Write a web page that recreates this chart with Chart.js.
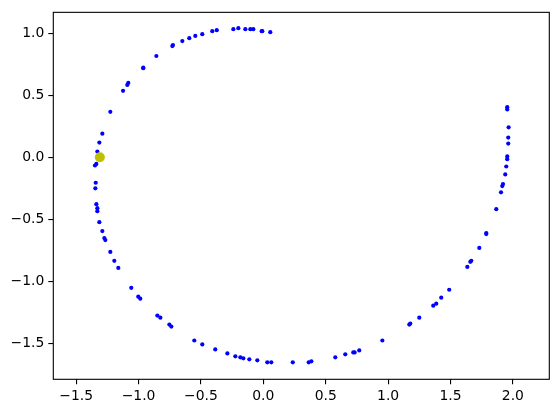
<!DOCTYPE html>
<html>
<head>
<meta charset="utf-8">
<script src="https://cdn.jsdelivr.net/npm/chart.js@4/dist/chart.umd.min.js"></script>
<style>
  html, body { margin: 0; padding: 0; background: #fff; }
  canvas { display: block; }
</style>
</head>
<body>
<canvas id="orbit" width="559" height="413"></canvas>
<script>
// orbit samples
const orbitX = [
  -1.346, -1.343, -1.338, -1.330, -1.330, -1.349, -1.338, -1.330, -1.314, -1.290,
  -1.226, -1.124, -1.090, -1.082, -0.962, -0.962, -0.857, -0.729, -0.724, -0.649,
  -0.593, -0.545, -0.489, -0.409, -0.373, -0.240, -0.200, -0.144, -0.104, -0.080,
  -0.013, -0.008, 0.056,
  1.955, 1.955, 1.966, 1.963, 1.963, 1.955, 1.955, 1.947, 1.939, 1.921,
  1.915, 1.905, 1.867,
  -1.314, -1.290, -1.274, -1.266, -1.226, -1.194, -1.162, -1.058, -1.002, -0.986,
  -0.849, -0.825, -0.753, -0.737, -0.553, -0.489, -0.385, -0.288, -0.224, -0.184,
  -0.160, -0.112, -0.048, 0.032, 0.064,
  0.236, 0.364, 0.385, 0.577, 0.657, 0.721, 0.732, 0.769, 0.954, 1.170,
  1.178, 1.250, 1.362, 1.386, 1.426, 1.490, 1.635, 1.659, 1.667, 1.731,
  1.787, 1.787
];
const orbitY = [
  -0.251, -0.206, -0.379, -0.411, -0.435, -0.067, -0.054, 0.046, 0.118, 0.190,
  0.366, 0.535, 0.583, 0.599, 0.722, 0.717, 0.816, 0.896, 0.904, 0.936,
  0.960, 0.978, 0.992, 1.016, 1.024, 1.032, 1.040, 1.032, 1.032, 1.032,
  1.016, 1.016, 1.008,
  0.403, 0.385, 0.241, 0.158, 0.110, 0.006, -0.016, -0.075, -0.139, -0.217,
  -0.233, -0.283, -0.419,
  -0.524, -0.596, -0.652, -0.668, -0.764, -0.836, -0.893, -1.053, -1.125, -1.141,
  -1.277, -1.294, -1.350, -1.366, -1.478, -1.510, -1.550, -1.582, -1.606, -1.614,
  -1.622, -1.630, -1.638, -1.654, -1.654,
  -1.654, -1.654, -1.646, -1.614, -1.590, -1.574, -1.574, -1.558, -1.478, -1.350,
  -1.342, -1.294, -1.197, -1.181, -1.133, -1.069, -0.885, -0.844, -0.836, -0.732,
  -0.620, -0.612
];

const bodyX = [-1.31];
const bodyY = [0.0];

const X_TICKS = [-1.5, -1.0, -0.5, 0.0, 0.5, 1.0, 1.5, 2.0];
const Y_TICKS = [-1.5, -1.0, -0.5, 0.0, 0.5, 1.0];
const X_RANGE = [-1.683, 2.292];
const Y_RANGE = [-1.791, 1.168];

const FONT = { family: 'DejaVu Sans', size: 13.9 };

function toPoints(xs, ys) {
  return xs.map((x, i) => ({ x: x, y: ys[i] }));
}

function fmtTick(v) {
  return (v < 0 ? '\u2212' : '') + Math.abs(v).toFixed(1);
}

function axis(range, ticks, fit) {
  return {
    type: 'linear',
    min: range[0],
    max: range[1],
    afterBuildTicks: s => { s.ticks = ticks.map(v => ({ value: v })); },
    afterFit: fit,
    grid: { display: true, drawOnChartArea: false, drawTicks: true, tickLength: 5, color: '#000', lineWidth: 1.1 },
    border: { display: false },
    ticks: { color: '#000', font: FONT, padding: 4, autoSkip: false, maxRotation: 0, callback: fmtTick },
  };
}

// matplotlib style box round the axes
const frame = {
  id: 'frame',
  afterDraw(chart) {
    const a = chart.chartArea, ctx = chart.ctx;
    ctx.save();
    ctx.strokeStyle = '#000';
    ctx.lineWidth = 1.1;
    ctx.strokeRect(a.left, a.top, a.right - a.left, a.bottom - a.top);
    ctx.restore();
  }
};

new Chart(document.getElementById('orbit'), {
  type: 'scatter',
  data: {
    datasets: [
      { data: toPoints(bodyX, bodyY), backgroundColor: '#bfbf00', borderWidth: 0, pointRadius: 5 },
      { data: toPoints(orbitX, orbitY), backgroundColor: '#0000ff', borderWidth: 0, pointRadius: 2.1 },
    ]
  },
  options: {
    responsive: false,
    devicePixelRatio: 1,
    animation: false,
    layout: { padding: { top: 10.3, right: 9.7, left: 0, bottom: 0 } },
    plugins: { legend: { display: false }, tooltip: { enabled: false } },
    scales: {
      x: axis(X_RANGE, X_TICKS, s => { s.height = 33.7; }),
      y: axis(Y_RANGE, Y_TICKS, s => { s.width = 53.3; }),
    }
  },
  plugins: [frame]
});
</script>
</body>
</html>
